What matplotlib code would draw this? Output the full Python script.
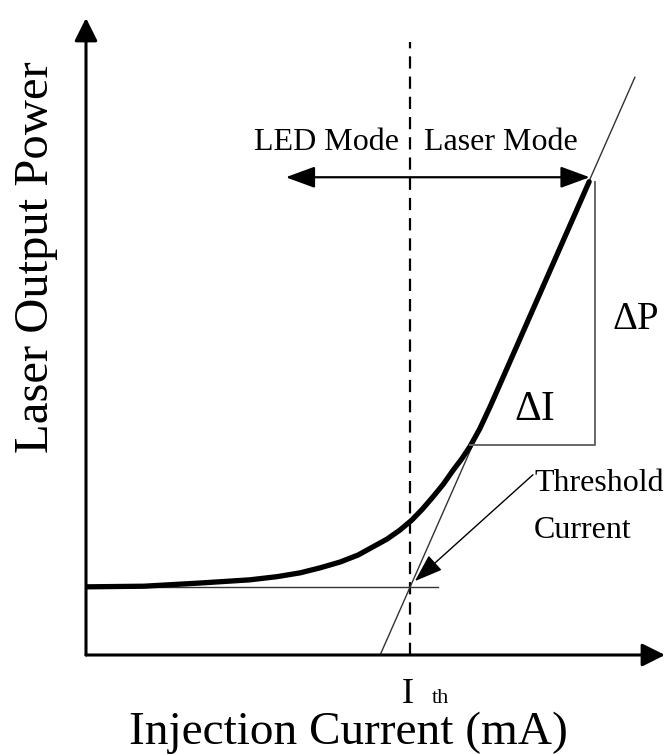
import matplotlib
matplotlib.use("Agg")
import matplotlib.pyplot as plt
import numpy as np

plt.rcParams['font.family'] = ['Liberation Serif', 'DejaVu Serif']

# L-I curve of a laser diode (arbitrary units)
current = [0.0, 1.0, 1.97, 2.83, 3.30, 3.70, 4.05, 4.39, 4.70, 4.96, 5.20,
           5.42, 5.63, 5.81, 5.99, 6.17, 6.34, 6.49, 6.63, 6.80, 6.98, 7.15, 8.69]
power = [1.07, 1.08, 1.13, 1.18, 1.23, 1.29, 1.37, 1.46, 1.57, 1.70, 1.82,
         1.96, 2.12, 2.29, 2.48, 2.68, 2.90, 3.08, 3.27, 3.55, 3.90, 4.25, 7.43]

i_th = 5.6          # threshold current
p_spont = 1.07      # spontaneous emission level
slope_x = [5.08, 9.48]   # extrapolated lasing line
slope_y = [0.0, 9.07]
box_i = [6.63, 8.79]     # delta I
box_p = [3.30, 7.43]     # delta P
mode_y = 7.50
mode_x = [3.45, 8.70]

fig = plt.figure(figsize=(6.65, 7.55), dpi=100)
ax = fig.add_axes([86 / 665, 100 / 755, 579 / 665, 637 / 755])
ax.set_xlim(0, 10)
ax.set_ylim(0, 10)
ax.axis('off')

# axes with arrows
ax.annotate('', xy=(0, 10), xytext=(0, 0), annotation_clip=False,
            arrowprops=dict(arrowstyle='-|>,head_length=0.5,head_width=0.25', lw=2.2,
                            color='black', mutation_scale=28, shrinkA=0, shrinkB=0))
ax.annotate('', xy=(10, 0), xytext=(0, 0), annotation_clip=False,
            arrowprops=dict(arrowstyle='-|>,head_length=0.5,head_width=0.25', lw=2.2,
                            color='black', mutation_scale=28, shrinkA=0, shrinkB=0))

# threshold dashed line
ax.plot([i_th, i_th], [0, 9.62], color='black', lw=1.6, linestyle=(0, (5.5, 3.6)))

# spontaneous level and extrapolated line
ax.plot([0, 6.08], [p_spont, p_spont], color='#333333', lw=1.0)
ax.plot(slope_x, slope_y, color='#333333', lw=1.0, clip_on=False)

# the L-I curve
ax.plot(current, power, color='black', lw=3.8, solid_capstyle='round', solid_joinstyle='round')

# delta box
ax.plot([box_i[0], box_i[1], box_i[1]], [box_p[0], box_p[0], box_p[1]], color='#666666', lw=1.4)

# mode arrow
ax.annotate('', xy=(mode_x[0], mode_y), xytext=(mode_x[1], mode_y),
            arrowprops=dict(arrowstyle='<|-|>,head_length=0.6,head_width=0.22', lw=1.6,
                            color='black', mutation_scale=30, shrinkA=0, shrinkB=0))

ax.text(4.15, 8.04, 'LED Mode', ha='center', va='center', fontsize=23)
ax.text(7.17, 8.04, 'Laser Mode', ha='center', va='center', fontsize=23)
ax.text(9.5, 5.26, 'ΔP', ha='center', va='center', fontsize=28, clip_on=False)
ax.text(7.75, 3.85, 'ΔI', ha='center', va='center', fontsize=30)

# threshold label
ax.annotate('', xy=(5.68, 1.16), xytext=(7.72, 2.83),
            arrowprops=dict(arrowstyle='-|>,head_length=0.8,head_width=0.28', lw=1.0,
                            color='black', mutation_scale=22, shrinkA=0, shrinkB=0))
ax.text(7.74, 2.69, 'Threshold', ha='left', va='center', fontsize=23, clip_on=False)
ax.text(7.74, 1.95, 'Current', ha='left', va='center', fontsize=23, clip_on=False)

# axis labels
ax.text(5.56, -0.62, 'I', ha='center', va='center', fontsize=26)
ax.text(6.13, -0.69, 'th', ha='center', va='center', fontsize=16)
ax.text(4.53, -1.22, 'Injection Current (mA)', ha='center', va='center', fontsize=34)
ax.text(-0.87, 6.25, 'Laser Output Power', ha='center', va='center', fontsize=35, rotation=90)

fig.savefig('out.png', dpi=100)
